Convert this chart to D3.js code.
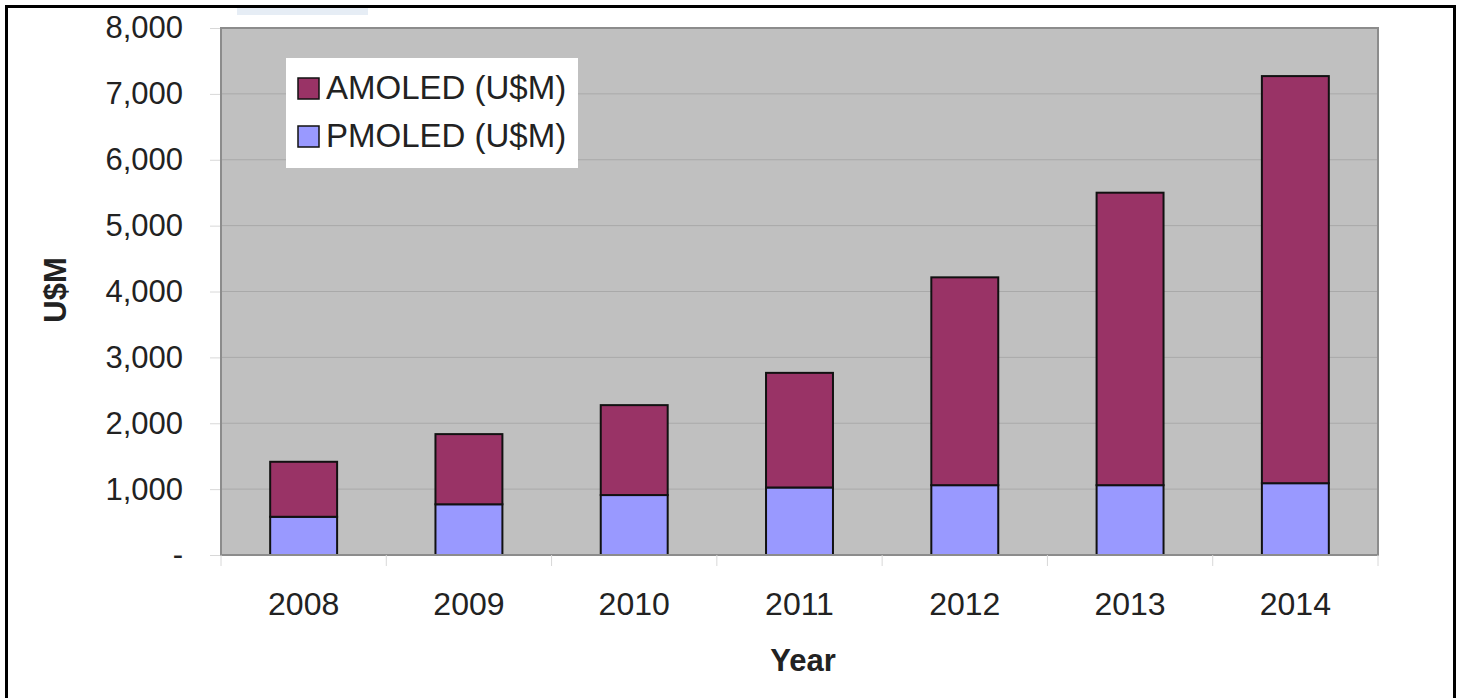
<!DOCTYPE html>
<html>
<head>
<meta charset="utf-8">
<script src="https://cdn.jsdelivr.net/npm/d3@7"></script>
<style>
  html, body { margin: 0; padding: 0; background: #fff; }
  svg { display: block; }
  text { font-family: "Liberation Sans", Arial, sans-serif; fill: #222; }
</style>
</head>
<body>
<svg id="chart" width="1459" height="698"></svg>
<script>
const years = ["2008", "2009", "2010", "2011", "2012", "2013", "2014"];
const pmoled = [580, 770, 910, 1025, 1060, 1060, 1090];
const amoled = [835, 1065, 1365, 1740, 3155, 4440, 6180];
const seriesNames = ["PMOLED (U$M)", "AMOLED (U$M)"];
const yTicks = [0, 1000, 2000, 3000, 4000, 5000, 6000, 7000, 8000];

const svg = d3.select("#chart");
const plot = { left: 221, top: 28, right: 1378, bottom: 555 };

// outer frame
svg.append("rect").attr("x", 6.5).attr("y", 6.5).attr("width", 1448).attr("height", 710)
  .attr("fill", "#fff").attr("stroke", "#000").attr("stroke-width", 3);
// faint decorative strip at top
svg.append("rect").attr("x", 237).attr("y", 8).attr("width", 131).attr("height", 7)
  .attr("fill", "#e6edf5");

const x = d3.scaleBand().domain(years).range([plot.left, plot.right]).padding(0);
const y = d3.scaleLinear().domain([0, 8000]).range([plot.bottom, plot.top]);

// plot background
svg.append("rect").attr("x", plot.left).attr("y", plot.top)
  .attr("width", plot.right - plot.left).attr("height", plot.bottom - plot.top)
  .attr("fill", "#c0c0c0");

// tick marks on left + labels
const yAxis = d3.axisLeft(y).tickValues(yTicks).tickSize(11).tickPadding(27)
  .tickFormat(d => d === 0 ? "-" : d3.format(",")(d));
const gy = svg.append("g").attr("transform", `translate(${plot.left},0)`).call(yAxis);
gy.select(".domain").remove();
gy.selectAll(".tick line").attr("stroke", "#d8d8d8");
gy.selectAll(".tick text").attr("font-size", 31).attr("fill", "#222")
  .style("font-family", "'Liberation Sans', Arial, sans-serif");

// grid lines
svg.append("g").selectAll("line").data(yTicks.filter(d => d > 0 && d < 8000)).join("line")
  .attr("x1", plot.left).attr("x2", plot.right)
  .attr("y1", d => y(d)).attr("y2", d => y(d))
  .attr("stroke", "#a9a9a9").attr("stroke-width", 1);

// stacked bars
const stackData = years.map((yr, i) => ({ year: yr, "PMOLED (U$M)": pmoled[i], "AMOLED (U$M)": amoled[i] }));
const stacked = d3.stack().keys(seriesNames)(stackData);
const colors = { "PMOLED (U$M)": "#9999ff", "AMOLED (U$M)": "#993366" };
const bw = x.bandwidth() * 0.405;

svg.append("g").selectAll("g").data(stacked).join("g")
  .attr("fill", d => colors[d.key])
  .selectAll("rect").data(d => d).join("rect")
  .attr("x", d => x(d.data.year) + (x.bandwidth() - bw) / 2)
  .attr("width", bw)
  .attr("y", d => y(d[1]))
  .attr("height", d => y(d[0]) - y(d[1]))
  .attr("stroke", "#111").attr("stroke-width", 2);

// plot border
svg.append("rect").attr("x", plot.left).attr("y", plot.top)
  .attr("width", plot.right - plot.left).attr("height", plot.bottom - plot.top)
  .attr("fill", "none").attr("stroke", "#8c8c8c").attr("stroke-width", 2);

// x axis
const boundaries = years.map(d => x(d)).concat([plot.right]);
svg.append("g").selectAll("line").data(boundaries).join("line")
  .attr("x1", d => d).attr("x2", d => d).attr("y1", plot.bottom).attr("y2", plot.bottom + 11)
  .attr("stroke", "#d8d8d8");
svg.append("g").selectAll("text").data(years).join("text")
  .attr("x", d => x(d) + x.bandwidth() / 2).attr("y", 615)
  .attr("text-anchor", "middle").attr("font-size", 32).text(d => d);

// axis titles
svg.append("text").attr("x", 803).attr("y", 671).attr("text-anchor", "middle")
  .attr("font-size", 31).attr("font-weight", "bold").text("Year");
svg.append("text").attr("transform", "translate(66,290) rotate(-90)")
  .attr("text-anchor", "middle").attr("font-size", 31).attr("font-weight", "bold").text("U$M");

// legend
const lg = svg.append("g");
lg.append("rect").attr("x", 286).attr("y", 58).attr("width", 292).attr("height", 110).attr("fill", "#fff");
const legendItems = ["AMOLED (U$M)", "PMOLED (U$M)"];
legendItems.forEach((name, i) => {
  const yy = 78 + i * 48;
  lg.append("rect").attr("x", 298).attr("y", yy).attr("width", 21).attr("height", 21)
    .attr("fill", colors[name]).attr("stroke", "#111").attr("stroke-width", 1.5);
  lg.append("text").attr("x", 326).attr("y", yy + 21).attr("font-size", 33).text(name);
});
</script>
</body>
</html>
